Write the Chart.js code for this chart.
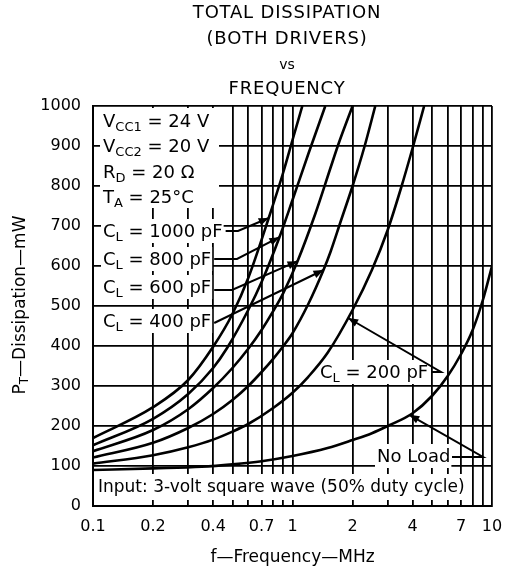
<!DOCTYPE html>
<html><head><meta charset="utf-8">
<script src="https://cdn.jsdelivr.net/npm/chart.js@4"></script>
<style>html,body{margin:0;padding:0;background:#fff}</style>
</head><body>
<canvas id="c" width="520" height="575"></canvas>
<script>
// ---- text ----
const titleLines = ['TOTAL DISSIPATION', '(BOTH DRIVERS)', 'vs', 'FREQUENCY'];
const xTitle = 'f\u2014Frequency\u2014MHz';
const yTitleParts = [['P'], ['T', 1], ['\u2014Dissipation\u2014mW']];

// ---- axes ----
const xGridValues = [0.1,0.2,0.3,0.4,0.5,0.6,0.7,0.8,0.9,1,2,3,4,5,6,7,8,9,10];
const xTickLabels = [0.1,0.2,0.4,0.7,1,2,4,7,10];
const yMin = 0, yMax = 1000, yStep = 100;

// ---- series (f in MHz, P in mW) ----
const noLoadF = [0.1, 0.2, 0.35, 0.5, 0.7, 1, 1.5, 2, 2.5, 3, 4, 5, 6, 7, 8, 9, 10];
const noLoadP = [90, 94, 98, 104, 112, 125, 145, 165, 182, 200, 232, 275, 325, 380, 440, 515, 600];

const cl200F = [0.1, 0.2, 0.3, 0.4, 0.5, 0.6, 0.8, 1, 1.2, 1.5, 2, 2.5, 3, 3.5, 4, 4.57];
const cl200P = [106, 127, 147, 166, 186, 205, 245, 283, 323, 383, 490, 590, 690, 795, 895, 1000];

const cl400F = [0.1, 0.2, 0.3, 0.4, 0.5, 0.6, 0.7, 0.8, 0.9, 1, 1.2, 1.43, 1.55, 1.74, 2, 2.3, 2.6];
const cl400P = [121, 158, 195, 230, 265, 300, 335, 368, 400, 432, 505, 590, 635, 710, 800, 900, 1000];

const cl600F = [0.1, 0.2, 0.3, 0.4, 0.5, 0.6, 0.7, 0.8, 0.9, 1.06, 1.3, 1.55, 1.7, 2.0];
const cl600P = [137, 190, 242, 295, 345, 393, 440, 487, 533, 612, 730, 845, 905, 1000];

const cl800F = [0.1, 0.2, 0.3, 0.4, 0.47, 0.6, 0.7, 0.86, 1, 1.2, 1.46];
const cl800P = [152, 218, 280, 345, 395, 490, 560, 672, 765, 880, 1000];

const cl1000F = [0.1, 0.2, 0.3, 0.4, 0.5, 0.6, 0.76, 0.9, 1, 1.12];
const cl1000P = [170, 247, 315, 398, 480, 570, 720, 835, 915, 1000];

const seriesNames = ['No Load', 'CL = 200 pF', 'CL = 400 pF', 'CL = 600 pF', 'CL = 800 pF', 'CL = 1000 pF'];
const seriesF = [noLoadF, cl200F, cl400F, cl600F, cl800F, cl1000F];
const seriesP = [noLoadP, cl200P, cl400P, cl600P, cl800P, cl1000P];

// ---- annotation layout (pixels for text, data units for arrow tips) ----
const FONT = 'DejaVu Sans';
const notes = [
  {parts:[['V'],['CC1',1],[' = 24 V']], x:103, y:127},
  {parts:[['V'],['CC2',1],[' = 20 V']], x:103, y:152},
  {parts:[['R'],['D',1],[' = 20 \u03A9']], x:103, y:178},
  {parts:[['T'],['A',1],[' = 25\u00B0C']], x:103, y:203},
  {parts:[['C'],['L',1],[' = 1000 pF']], x:103, y:237, bg:true, leader:{y:231, elbow:238, tip:[0.76,720]}},
  {parts:[['C'],['L',1],[' = 800 pF']], x:103, y:265, bg:true, leader:{y:259, elbow:237, tip:[0.86,672]}},
  {parts:[['C'],['L',1],[' = 600 pF']], x:103, y:293, bg:true, leader:{y:290, elbow:232, tip:[1.06,612]}},
  {parts:[['C'],['L',1],[' = 400 pF']], x:103, y:327, bg:true, leader:{y:323, elbow:null, tip:[1.43,590]}},
  {parts:[['C'],['L',1],[' = 200 pF']], x:320, y:378, bg:true, leader:{y:372, elbow:441, tip:[1.9,470]}},
  {parts:[['No Load']], x:377, y:462, bg:true, leader:{y:457, startX:452, elbow:483, tip:[3.85,228]}},
  {parts:[['Input: 3-volt square wave (50% duty cycle)']], x:98, y:492, size:17, box:[95,474,466,500]}
];
const topBlock = [100, 108, 219, 208];

function drawRich(ctx, parts, x, y, size, subSize, subDy) {
  let cx = x;
  for (const [t, sub] of parts) {
    ctx.font = (sub ? subSize : size) + 'px "' + FONT + '"';
    ctx.fillText(t, cx, y + (sub ? subDy : 0));
    cx += ctx.measureText(t).width;
  }
  return cx;
}
function richWidth(ctx, parts, size, subSize) {
  let w = 0;
  for (const [t, sub] of parts) {
    ctx.font = (sub ? subSize : size) + 'px "' + FONT + '"';
    w += ctx.measureText(t).width;
  }
  return w;
}

const annotPlugin = {
  id: 'annot',
  beforeDatasetsDraw(chart) {
    const ctx = chart.ctx;
    ctx.save();
    ctx.fillStyle = '#fff';
    ctx.fillRect(topBlock[0], topBlock[1], topBlock[2]-topBlock[0], topBlock[3]-topBlock[1]);
    for (const n of notes) {
      const size = n.size || 18;
      const w = richWidth(ctx, n.parts, size, 13);
      ctx.fillStyle = '#fff';
      if (n.box) ctx.fillRect(n.box[0], n.box[1], n.box[2]-n.box[0], n.box[3]-n.box[1]);
      else if (n.bg) ctx.fillRect(n.x - 2, n.y - 18, w + 3, 24);
      ctx.fillStyle = '#000';
      ctx.textAlign = 'left';
      ctx.textBaseline = 'alphabetic';
      n.end = drawRich(ctx, n.parts, n.x, n.y, size, 13, 4);
    }
    ctx.restore();
  },
  afterDatasetsDraw(chart) {
    const ctx = chart.ctx;
    const xs = chart.scales.x, ys = chart.scales.y;
    ctx.save();
    ctx.strokeStyle = '#000';
    ctx.fillStyle = '#000';
    ctx.lineWidth = 2;
    for (const n of notes) {
      if (!n.leader) continue;
      const L = n.leader;
      const sx = L.startX != null ? L.startX : n.end + 3;
      const tx = xs.getPixelForValue(L.tip[0]);
      const ty = ys.getPixelForValue(L.tip[1]);
      const ex = L.elbow != null ? L.elbow : sx;
      ctx.beginPath();
      ctx.moveTo(sx, L.y);
      ctx.lineTo(ex, L.y);
      ctx.lineTo(tx, ty);
      ctx.stroke();
      const ang = Math.atan2(ty - L.y, tx - ex);
      const len = 10, hw = 4;
      const bx = tx - len*Math.cos(ang), by = ty - len*Math.sin(ang);
      ctx.beginPath();
      ctx.moveTo(tx, ty);
      ctx.lineTo(bx + hw*Math.sin(ang), by - hw*Math.cos(ang));
      ctx.lineTo(bx - hw*Math.sin(ang), by + hw*Math.cos(ang));
      ctx.closePath();
      ctx.fill();
    }
    ctx.restore();
  },
  afterDraw(chart) {
    const ctx = chart.ctx;
    const ca = chart.chartArea;
    ctx.save();
    ctx.fillStyle = '#000';
    ctx.textAlign = 'center';
    ctx.textBaseline = 'middle';
    const tx = 287;
    const tys = [13, 39, 65, 89];
    titleLines.forEach((t, i) => {
      ctx.font = (t === 'vs' ? 14 : 18) + 'px "' + FONT + '"';
      ctx.letterSpacing = t === 'vs' ? '0px' : '0.8px';
      ctx.fillText(t, tx, tys[i]);
    });
    ctx.letterSpacing = '0px';
    ctx.font = '17px "' + FONT + '"';
    ctx.fillText(xTitle, (ca.left + ca.right) / 2, 558);
    // y title rotated
    ctx.translate(21, 305);
    ctx.rotate(-Math.PI / 2);
    ctx.textAlign = 'left';
    ctx.textBaseline = 'middle';
    const w = richWidth(ctx, yTitleParts, 17, 12);
    drawRich(ctx, yTitleParts, -w/2, 0, 17, 12, 4);
    ctx.restore();
  }
};

const datasets = seriesNames.map((name, i) => ({
  label: name,
  data: seriesF[i].map((f, j) => ({x: f, y: seriesP[i][j]})),
  borderColor: '#000',
  borderWidth: 2.6,
  pointRadius: 0,
  fill: false,
  cubicInterpolationMode: 'monotone'
}));

new Chart(document.getElementById('c'), {
  type: 'line',
  data: { datasets },
  options: {
    responsive: false,
    animation: false,
    devicePixelRatio: 1,
    layout: { padding: { top: 106, right: 28, left: 0, bottom: 0 } },
    plugins: { legend: { display: false }, tooltip: { enabled: false }, title: { display: false } },
    scales: {
      x: {
        type: 'logarithmic',
        min: 0.1, max: 10,
        afterBuildTicks: (s) => { s.ticks = xGridValues.map(v => ({ value: v })); },
        afterFit: (s) => { s.height = 69; },
        ticks: {
          autoSkip: false, maxRotation: 0, minRotation: 0,
          color: '#000', padding: 11,
          font: { family: FONT, size: 16 },
          callback: (v) => xTickLabels.includes(v) ? String(v) : ''
        },
        grid: { color: '#000', lineWidth: 1.8, drawTicks: false },
        border: { color: '#000', width: 2 }
      },
      y: {
        type: 'linear',
        min: yMin, max: yMax,
        afterFit: (s) => { s.width = 93; },
        ticks: {
          stepSize: yStep, color: '#000', padding: 12,
          font: { family: FONT, size: 16 },
          callback: (v) => String(v)
        },
        grid: { color: '#000', lineWidth: 1.8, drawTicks: false },
        border: { color: '#000', width: 2 }
      }
    }
  },
  plugins: [annotPlugin]
});
</script>
</body></html>
